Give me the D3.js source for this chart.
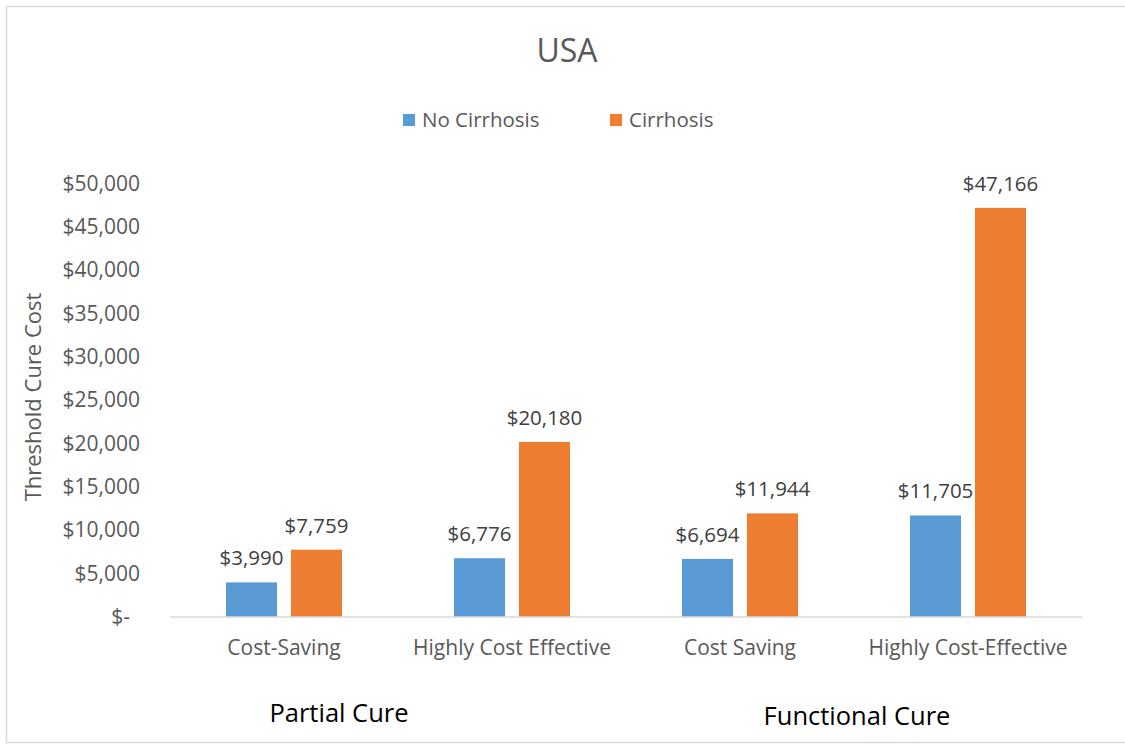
<!DOCTYPE html>
<html>
<head>
<meta charset="utf-8">
<script src="https://cdnjs.cloudflare.com/ajax/libs/d3/7.8.5/d3.min.js"></script>
<style>
  html, body { margin: 0; padding: 0; background: #fff; }
  svg text { font-family: "Open Sans", "Liberation Sans", sans-serif; }
</style>
</head>
<body>
<svg id="chart" width="1125" height="744"></svg>
<script>
// chart data
var categories = ['Cost-Saving', 'Highly Cost Effective', 'Cost Saving', 'Highly Cost-Effective'];
var seriesNames = ['No Cirrhosis', 'Cirrhosis'];
var noCirrhosis = [3990, 6776, 6694, 11705];
var cirrhosis = [7759, 20180, 11944, 47166];
var yTicks = [0, 5000, 10000, 15000, 20000, 25000, 30000, 35000, 40000, 45000, 50000];
var groupLabels = ['Partial Cure', 'Functional Cure'];

var colors = { 'No Cirrhosis': '#5b9bd5', 'Cirrhosis': '#ed7d31' };
var textGrey = '#595959';

var svg = d3.select('#chart');

// frame of the chart area (right edge runs off the picture)
svg.append('rect')
    .attr('x', 6.5).attr('y', 6.5)
    .attr('width', 1150).attr('height', 736)
    .attr('fill', 'none').attr('stroke', '#d9d9d9').attr('stroke-width', 1.5);

var plot = { left: 170, right: 1082, top: 183.3, bottom: 617 };

var x0 = d3.scaleBand()
    .domain(categories)
    .range([plot.left, plot.right]);

// two bars per category, 51px wide with a 14px gap
var x1 = d3.scaleBand()
    .domain(seriesNames)
    .range([0, x0.bandwidth()])
    .paddingInner(0.215)
    .paddingOuter(0.862);

var y = d3.scaleLinear()
    .domain([0, 50000])
    .range([plot.bottom, plot.top]);

// title
svg.append('text')
    .attr('x', 567).attr('y', 62)
    .attr('text-anchor', 'middle')
    .attr('font-size', 32)
    .attr('fill', textGrey)
    .text('USA');

// legend
var legend = svg.append('g').attr('class', 'legend');
var legendX = [403, 610];
seriesNames.forEach(function (name, i) {
    var g = legend.append('g').attr('transform', 'translate(' + legendX[i] + ',114)');
    g.append('rect').attr('width', 12).attr('height', 12).attr('fill', colors[name]);
    g.append('text')
        .attr('x', 19).attr('y', 13)
        .attr('font-size', 20.5)
        .attr('fill', textGrey)
        .text(name);
});

// y axis (labels only)
var fmt = d3.format(',');
var yAxis = svg.append('g')
    .attr('transform', 'translate(' + plot.left + ',0)')
    .call(d3.axisLeft(y)
        .tickValues(yTicks)
        .tickSize(0)
        .tickPadding(30)
        .tickFormat(function (d) { return d === 0 ? '$-' : '$' + fmt(d); }));
yAxis.select('.domain').remove();
yAxis.selectAll('text')
    .attr('font-size', 21)
    .attr('fill', textGrey)
    .style('font-family', '"Open Sans", sans-serif')
    .attr('dx', function (d) { return d === 0 ? -10 : 0; });

// y axis title
svg.append('text')
    .attr('transform', 'translate(41,397) rotate(-90)')
    .attr('text-anchor', 'middle')
    .attr('font-size', 22)
    .attr('fill', textGrey)
    .text('Threshold Cure Cost');

// bars
var rows = categories.map(function (c, i) {
    return { category: c, values: [
        { series: 'No Cirrhosis', value: noCirrhosis[i] },
        { series: 'Cirrhosis', value: cirrhosis[i] }
    ] };
});

var groups = svg.append('g').selectAll('g')
    .data(rows)
    .join('g')
    .attr('transform', function (d) { return 'translate(' + x0(d.category) + ',0)'; });

groups.selectAll('rect')
    .data(function (d) { return d.values; })
    .join('rect')
    .attr('x', function (d) { return x1(d.series); })
    .attr('y', function (d) { return y(d.value); })
    .attr('width', x1.bandwidth())
    .attr('height', function (d) { return y(0) - y(d.value); })
    .attr('fill', function (d) { return colors[d.series]; });

// value labels above the bars
groups.selectAll('text.value')
    .data(function (d) { return d.values; })
    .join('text')
    .attr('class', 'value')
    .attr('x', function (d) { return x1(d.series) + x1.bandwidth() / 2; })
    .attr('y', function (d) { return y(d.value) - 17; })
    .attr('text-anchor', 'middle')
    .attr('font-size', 20.5)
    .attr('fill', '#404040')
    .text(function (d) { return '$' + fmt(d.value); });

// x axis baseline
svg.append('line')
    .attr('x1', plot.left).attr('x2', plot.right)
    .attr('y1', y(0)).attr('y2', y(0))
    .attr('stroke', '#d9d9d9').attr('stroke-width', 1.5);

// category labels
svg.append('g').selectAll('text')
    .data(categories)
    .join('text')
    .attr('x', function (d) { return x0(d) + x0.bandwidth() / 2; })
    .attr('y', 655)
    .attr('text-anchor', 'middle')
    .attr('font-size', 21)
    .attr('fill', textGrey)
    .text(function (d) { return d; });

// group labels under the categories
var partialX = x0(categories[0]) + x0.bandwidth() / 2 + 55;
var functionalX = (x0(categories[2]) + x0(categories[3]) + x0.bandwidth()) / 2 + 3;
svg.append('g').selectAll('text')
    .data(groupLabels)
    .join('text')
    .attr('x', function (d, i) { return i === 0 ? partialX : functionalX; })
    .attr('y', function (d, i) { return i === 0 ? 722 : 725; })
    .attr('text-anchor', 'middle')
    .attr('font-size', 25.5)
    .attr('fill', '#000')
    .text(function (d) { return d; });
</script>
</body>
</html>
